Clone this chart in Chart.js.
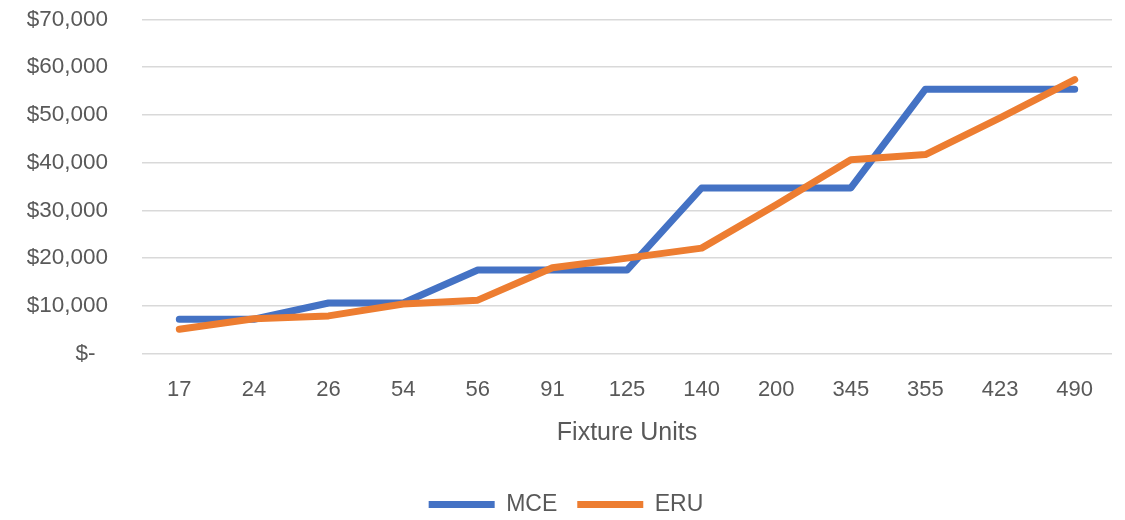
<!DOCTYPE html>
<html>
<head>
<meta charset="utf-8">
<script src="https://cdn.jsdelivr.net/npm/chart.js@4/dist/chart.umd.min.js"></script>
<style>
  html, body { margin: 0; padding: 0; background: #fff; }
  #wrap { width: 1125px; height: 520px; }
</style>
</head>
<body>
<div id="wrap"><canvas id="costPlot"></canvas></div>
<script>
// Fixture units vs cost
const fixtureUnits = ['17', '24', '26', '54', '56', '91', '125', '140', '200', '345', '355', '423', '490'];
const mceValues = [7200, 7200, 10600, 10600, 17500, 17500, 17500, 34700, 34700, 34700, 55400, 55400, 55400];
const eruValues = [5100, 7300, 7900, 10400, 11200, 18000, 20000, 22100, 31200, 40600, 41700, 49400, 57400];

const FONT = "'Liberation Sans', Arial, sans-serif";
const TXT = '#595959';

const costPlot_ctx = document.getElementById('costPlot');

new Chart(costPlot_ctx, {
    type: 'line',
    data: {
        labels: fixtureUnits,
        datasets: [
            {
                label: 'MCE',
                data: mceValues,
                borderColor: '#4472C4',
                backgroundColor: '#4472C4',
                borderWidth: 7,
                borderCapStyle: 'round',
                borderJoinStyle: 'round',
                pointRadius: 0,
                tension: 0,
                order: 1
            },
            {
                label: 'ERU',
                data: eruValues,
                borderColor: '#ED7D31',
                backgroundColor: '#ED7D31',
                borderWidth: 7,
                borderCapStyle: 'round',
                borderJoinStyle: 'round',
                pointRadius: 0,
                tension: 0,
                order: 0 // drawn on top
            }
        ]
    },
    options: {
        responsive: true,
        maintainAspectRatio: false,
        animation: false,
        layout: { padding: { left: 20, right: 13, top: 19.5, bottom: -6 } },
        plugins: {
            tooltip: { enabled: false },
            legend: {
                position: 'bottom',
                labels: {
                    usePointStyle: true,
                    pointStyle: 'line',
                    pointStyleWidth: 66,
                    padding: 20,
                    color: TXT,
                    font: { family: FONT, size: 23 },
                    sort: (a, b) => a.datasetIndex - b.datasetIndex
                }
            }
        },
        scales: {
            x: {
                offset: true,
                grid: { display: false, drawTicks: false },
                border: { display: false },
                ticks: { color: TXT, padding: 23.5, font: { family: FONT, size: 22 } },
                title: {
                    display: true,
                    text: 'Fixture Units',
                    color: TXT,
                    padding: { top: -8.5, bottom: 24.5 },
                    font: { family: FONT, size: 25 }
                }
            },
            y: {
                min: 0,
                max: 70000,
                afterFit: scale => {
                    scale.width = 122;
                    scale.paddingTop = 0;
                    scale.paddingBottom = 0;
                },
                grid: { color: '#d9d9d9', lineWidth: 1.5, drawTicks: false },
                border: { display: false },
                ticks: {
                    stepSize: 10000,
                    padding: 34,
                    color: TXT,
                    font: { family: FONT, size: 22.5 },
                    callback: v => v === 0 ? '$-\u2007' : '$' + v.toLocaleString('en-US')
                }
            }
        }
    }
});
</script>
</body>
</html>
